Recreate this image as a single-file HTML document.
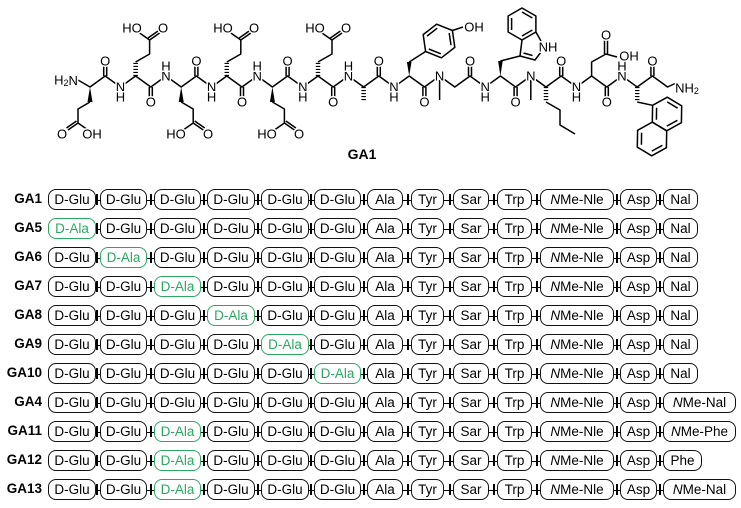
<!DOCTYPE html>
<html><head><meta charset="utf-8"><style>
body{margin:0;width:741px;height:508px;background:#fff;position:relative;overflow:hidden;font-family:"Liberation Sans",Arial,sans-serif}
svg{position:absolute;left:0;top:0}
.t{font:13px "Liberation Sans",Arial,sans-serif;text-anchor:middle;dominant-baseline:central;stroke:#fff;stroke-width:3;paint-order:stroke;fill:#000}
.r{position:absolute;left:0;width:741px;height:22px}
.r:before{content:"";position:absolute;left:60px;right:60px;top:10.5px;height:1.5px;background:#000}
.r b{position:absolute;right:699px;top:2px;font-size:13.5px;font-weight:bold}
.b{position:absolute;top:0;height:19px;border:1.8px solid #111;border-radius:8px;background:#fff;font-size:13.5px;line-height:19px;text-align:center;box-sizing:content-box}
.b:after{content:"";position:absolute;left:-5px;top:4px;width:1.5px;height:11px;background:#000}
.c0:after{display:none}
.g{border-color:#2aa862;color:#2aa862}
.c0{left:48px;width:46px}.c1{left:100px;width:45px}.c2{left:154px;width:45px}.c3{left:207px;width:46px}.c4{left:261px;width:46px}.c5{left:314px;width:45px}
.c6{left:367px;width:34px}.c7{left:411px;width:31px}.c8{left:453px;width:34px}.c9{left:497px;width:33px}.c10{left:540px;width:72px}.c11{left:620px;width:35px}
.c12{left:663px;width:33px}.nn{left:663px;width:71px}.ph{left:663px;width:37px}
</style></head><body>
<svg width="741" height="180" viewBox="0 0 741 180" fill="none" stroke="#000" stroke-width="1.5" stroke-linejoin="round">
<polyline points="78,80 90,87 105.2,76 120.4,87 135.6,76 150.8,87 166,76 181.2,87 196.4,76 211.6,87 226.8,76 242,87 257.2,76 272.4,87 287.6,76 302.8,87 318,76 333.2,87 348.4,76 363.6,87 378.8,76 394,87 409.2,76 424.4,87 439.6,76 454.8,87 470,76 485.2,87 500.4,76 515.6,87 530.8,76 546,87 561.2,76 576.4,87 591.6,76 606.8,87 622,76 637.2,87 652.4,76 667.6,87 676,83"/>
<g>
<path d="M103.7 76V66M106.7 76V66M194.9 76V66M197.9 76V66M286.1 76V66M289.1 76V66M377.3 76V66M380.3 76V66M468.5 76V66M471.5 76V66M559.7 76V66M562.7 76V66M650.9 76V66M653.9 76V66"/>
<path d="M149.3 87V97M152.3 87V97M240.5 87V97M243.5 87V97M331.7 87V97M334.7 87V97M422.9 87V97M425.9 87V97M514.1 87V97M517.1 87V97M605.3 87V97M608.3 87V97"/>
</g>
<path d="M439.6 80V100M530.8 80V100"/>
<polygon points="90,87 87.5,102 92.5,102" fill="#000" stroke="none"/>
<polyline points="90,102 78,109 78,123 88,130"/>
<path d="M78 123L68 130M76.5 121L66.5 128"/>
<polygon points="181.2,87 178.7,102 183.7,102" fill="#000" stroke="none"/>
<polyline points="181.2,102 193.2,109 193.2,123 183.2,130"/>
<path d="M193.2 123L203.2 130M194.7 121L204.7 128"/>
<polygon points="272.4,87 269.9,102 274.9,102" fill="#000" stroke="none"/>
<polyline points="272.4,102 284.4,109 284.4,123 274.4,130"/>
<path d="M284.4 123L294.4 130M285.9 121L295.9 128"/>
<g stroke-width="4.5" stroke-dasharray="1.1 1.9"><path d="M135.6 76V62M226.8 76V62M318 76V62M363.6 87V102M546 87V102M637.2 87V102"/></g>
<polyline points="135.6,62 149.6,54 149.6,40 139.6,33"/><path d="M149.6 40L159.6 33M148 38L158 31"/>
<polyline points="226.8,62 240.8,54 240.8,40 230.8,33"/><path d="M240.8 40L250.8 33M239.2 38L249.2 31"/>
<polyline points="318,62 332,54 332,40 322,33"/><path d="M332 40L342 33M330.4 38L340.4 31"/>
<polygon points="409.2,76 406.9,62 411.5,62" fill="#000" stroke="none"/>
<polyline points="409.2,62 425.6,51.5"/>
<polygon points="452.4,30.5 454.8,47.4 441.4,57.8 425.6,51.5 423.2,34.6 436.6,24.2"/>
<path d="M449.2 33L451 45.2M440.8 53.8L428.8 49M427 36.1L437.2 28.2M452.4 30.5L463 27"/>
<polygon points="500.4,76 498.1,61 502.7,61" fill="#000" stroke="none"/>
<polyline points="500.4,61 520,56"/>
<polygon points="522,8 535.9,16 535.9,32 522,40 508.1,32 508.1,16"/>
<polyline points="522,40 520,56 535,60 541,52"/><path d="M535.9 32L541 41"/>
<path d="M522 12L532.4 18M532.4 30L522 36M511.6 30L511.6 18M523.5 53L532.5 55.5"/>
<polyline points="546,102 560,110 560,125 575,134"/>
<polyline points="591.6,76 591.6,62 606,54 617,57"/>
<path d="M604.5 54V40M607.5 54V40"/>
<polyline points="637.2,102 652.6,105.3"/>
<polygon points="666.7,130.8 652.3,122.1 652.6,105.3 667.3,97.2 681.7,105.9 681.4,122.7"/>
<polygon points="666.7,130.8 666.4,147.7 651.7,155.8 637.3,147.1 637.6,130.3 652.3,122.1"/>
<path d="M667.2 101.9L677.6 108.2M677.4 120.3L666.8 126.1M656.4 119.8L656.6 107.7M662.4 145.3L651.8 151.1M641.4 144.8L641.6 132.7"/>
<g class="t" stroke="#fff">
<text x="66" y="80">H<tspan font-size="9" dy="3">2</tspan><tspan dy="-3">N</tspan></text>
<text x="105.2" y="61">O</text><text x="196.4" y="61">O</text><text x="287.6" y="61">O</text><text x="378.8" y="61">O</text><text x="470" y="61">O</text><text x="561.2" y="61">O</text><text x="652.4" y="61">O</text>
<text x="150.8" y="102">O</text><text x="242" y="102">O</text><text x="333.2" y="102">O</text><text x="424.4" y="102">O</text><text x="515.6" y="102">O</text><text x="606.8" y="102">O</text>
<text x="120.4" y="87">N</text><text x="120.4" y="97">H</text>
<text x="211.6" y="87">N</text><text x="211.6" y="97">H</text>
<text x="302.8" y="87">N</text><text x="302.8" y="97">H</text>
<text x="394" y="87">N</text><text x="394" y="97">H</text>
<text x="485.2" y="87">N</text><text x="485.2" y="97">H</text>
<text x="576.4" y="87">N</text><text x="576.4" y="97">H</text>
<text x="166" y="76">N</text><text x="166" y="66">H</text>
<text x="257.2" y="76">N</text><text x="257.2" y="66">H</text>
<text x="348.4" y="76">N</text><text x="348.4" y="66">H</text>
<text x="622" y="76">N</text><text x="622" y="66">H</text>
<text x="439.6" y="76">N</text><text x="530.8" y="76">N</text>
<text x="687" y="88">NH<tspan font-size="9" dy="3">2</tspan></text>
<text x="62" y="134">O</text><text x="92" y="134">OH</text>
<text x="176" y="134">HO</text><text x="208" y="134">O</text>
<text x="267" y="134">HO</text><text x="299" y="134">O</text>
<text x="132" y="28">HO</text><text x="163" y="28">O</text>
<text x="223" y="28">HO</text><text x="254" y="28">O</text>
<text x="315" y="28">HO</text><text x="346" y="28">O</text>
<text x="474" y="27">OH</text>
<text x="548" y="47">NH</text>
<text x="606" y="35">O</text><text x="629" y="56">OH</text>
</g>
<text x="362" y="159" style="font:bold 14px 'Liberation Sans',Arial,sans-serif" fill="#000" stroke="none" text-anchor="middle">GA1</text>
</svg>

<div class="r" style="top:189px"><b>GA1</b><span class="b c0">D-Glu</span><span class="b c1">D-Glu</span><span class="b c2">D-Glu</span><span class="b c3">D-Glu</span><span class="b c4">D-Glu</span><span class="b c5">D-Glu</span><span class="b c6">Ala</span><span class="b c7">Tyr</span><span class="b c8">Sar</span><span class="b c9">Trp</span><span class="b c10"><i>N</i>Me-Nle</span><span class="b c11">Asp</span><span class="b c12">Nal</span></div>
<div class="r" style="top:218px"><b>GA5</b><span class="b c0 g">D-Ala</span><span class="b c1">D-Glu</span><span class="b c2">D-Glu</span><span class="b c3">D-Glu</span><span class="b c4">D-Glu</span><span class="b c5">D-Glu</span><span class="b c6">Ala</span><span class="b c7">Tyr</span><span class="b c8">Sar</span><span class="b c9">Trp</span><span class="b c10"><i>N</i>Me-Nle</span><span class="b c11">Asp</span><span class="b c12">Nal</span></div>
<div class="r" style="top:247px"><b>GA6</b><span class="b c0">D-Glu</span><span class="b c1 g">D-Ala</span><span class="b c2">D-Glu</span><span class="b c3">D-Glu</span><span class="b c4">D-Glu</span><span class="b c5">D-Glu</span><span class="b c6">Ala</span><span class="b c7">Tyr</span><span class="b c8">Sar</span><span class="b c9">Trp</span><span class="b c10"><i>N</i>Me-Nle</span><span class="b c11">Asp</span><span class="b c12">Nal</span></div>
<div class="r" style="top:276px"><b>GA7</b><span class="b c0">D-Glu</span><span class="b c1">D-Glu</span><span class="b c2 g">D-Ala</span><span class="b c3">D-Glu</span><span class="b c4">D-Glu</span><span class="b c5">D-Glu</span><span class="b c6">Ala</span><span class="b c7">Tyr</span><span class="b c8">Sar</span><span class="b c9">Trp</span><span class="b c10"><i>N</i>Me-Nle</span><span class="b c11">Asp</span><span class="b c12">Nal</span></div>
<div class="r" style="top:305px"><b>GA8</b><span class="b c0">D-Glu</span><span class="b c1">D-Glu</span><span class="b c2">D-Glu</span><span class="b c3 g">D-Ala</span><span class="b c4">D-Glu</span><span class="b c5">D-Glu</span><span class="b c6">Ala</span><span class="b c7">Tyr</span><span class="b c8">Sar</span><span class="b c9">Trp</span><span class="b c10"><i>N</i>Me-Nle</span><span class="b c11">Asp</span><span class="b c12">Nal</span></div>
<div class="r" style="top:334px"><b>GA9</b><span class="b c0">D-Glu</span><span class="b c1">D-Glu</span><span class="b c2">D-Glu</span><span class="b c3">D-Glu</span><span class="b c4 g">D-Ala</span><span class="b c5">D-Glu</span><span class="b c6">Ala</span><span class="b c7">Tyr</span><span class="b c8">Sar</span><span class="b c9">Trp</span><span class="b c10"><i>N</i>Me-Nle</span><span class="b c11">Asp</span><span class="b c12">Nal</span></div>
<div class="r" style="top:363px"><b>GA10</b><span class="b c0">D-Glu</span><span class="b c1">D-Glu</span><span class="b c2">D-Glu</span><span class="b c3">D-Glu</span><span class="b c4">D-Glu</span><span class="b c5 g">D-Ala</span><span class="b c6">Ala</span><span class="b c7">Tyr</span><span class="b c8">Sar</span><span class="b c9">Trp</span><span class="b c10"><i>N</i>Me-Nle</span><span class="b c11">Asp</span><span class="b c12">Nal</span></div>
<div class="r" style="top:392px"><b>GA4</b><span class="b c0">D-Glu</span><span class="b c1">D-Glu</span><span class="b c2">D-Glu</span><span class="b c3">D-Glu</span><span class="b c4">D-Glu</span><span class="b c5">D-Glu</span><span class="b c6">Ala</span><span class="b c7">Tyr</span><span class="b c8">Sar</span><span class="b c9">Trp</span><span class="b c10"><i>N</i>Me-Nle</span><span class="b c11">Asp</span><span class="b nn"><i>N</i>Me-Nal</span></div>
<div class="r" style="top:421px"><b>GA11</b><span class="b c0">D-Glu</span><span class="b c1">D-Glu</span><span class="b c2 g">D-Ala</span><span class="b c3">D-Glu</span><span class="b c4">D-Glu</span><span class="b c5">D-Glu</span><span class="b c6">Ala</span><span class="b c7">Tyr</span><span class="b c8">Sar</span><span class="b c9">Trp</span><span class="b c10"><i>N</i>Me-Nle</span><span class="b c11">Asp</span><span class="b nn"><i>N</i>Me-Phe</span></div>
<div class="r" style="top:450px"><b>GA12</b><span class="b c0">D-Glu</span><span class="b c1">D-Glu</span><span class="b c2 g">D-Ala</span><span class="b c3">D-Glu</span><span class="b c4">D-Glu</span><span class="b c5">D-Glu</span><span class="b c6">Ala</span><span class="b c7">Tyr</span><span class="b c8">Sar</span><span class="b c9">Trp</span><span class="b c10"><i>N</i>Me-Nle</span><span class="b c11">Asp</span><span class="b ph">Phe</span></div>
<div class="r" style="top:479px"><b>GA13</b><span class="b c0">D-Glu</span><span class="b c1">D-Glu</span><span class="b c2 g">D-Ala</span><span class="b c3">D-Glu</span><span class="b c4">D-Glu</span><span class="b c5">D-Glu</span><span class="b c6">Ala</span><span class="b c7">Tyr</span><span class="b c8">Sar</span><span class="b c9">Trp</span><span class="b c10"><i>N</i>Me-Nle</span><span class="b c11">Asp</span><span class="b nn"><i>N</i>Me-Nal</span></div>
</body></html>
